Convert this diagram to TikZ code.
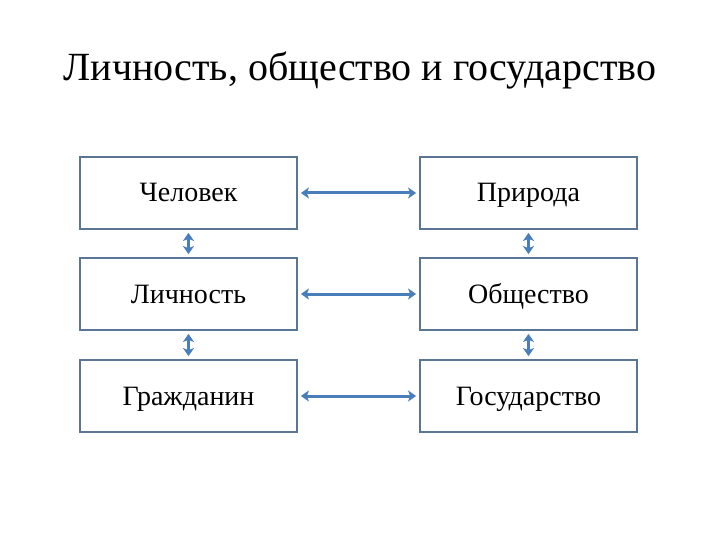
\documentclass[tikz,border=0pt]{standalone}
\usepackage{fontspec}
\setmainfont{Liberation Serif}
\usepackage{xcolor}
\usetikzlibrary{arrows.meta, positioning}
\definecolor{boxline}{HTML}{5B7594}
\definecolor{arrowblue}{HTML}{4A7EBB}

\begin{document}
\begin{tikzpicture}[x=1pt, y=-1pt,
    term/.style={rectangle, draw=boxline, line width=1.8pt, minimum width=217pt, minimum height=72pt, inner sep=0pt, text height=21pt, text depth=3pt, font=\fontsize{28}{32}\selectfont},
    link/.style={{Stealth[length=8pt,width=11pt,inset=2pt]}-{Stealth[length=8pt,width=11pt,inset=2pt]}, draw=arrowblue, line width=3pt, shorten <=3pt, shorten >=3pt}]
        \useasboundingbox (0,0) rectangle (720,540);
        \node at (360, 71) (title) {\fontsize{40}{46}\selectfont Личность, общество и государство};

        \node[term] at (188.5, 193) (chel) {Человек};
        \node[term] at (528.5, 193) (prir) {Природа};
        \node[term] at (188.5, 294) (lich) {Личность};
        \node[term] at (528.5, 294) (obsh) {Общество};
        \node[term] at (188.5, 396) (grazh) {Гражданин};
        \node[term] at (528.5, 396) (gos) {Государство};

        \draw[link] (chel) -- (prir);
        \draw[link] (lich) -- (obsh);
        \draw[link] (grazh) -- (gos);
        \draw[link] (chel) -- (lich);
        \draw[link] (lich) -- (grazh);
        \draw[link] (prir) -- (obsh);
        \draw[link] (obsh) -- (gos);
    \end{tikzpicture}
\end{document}
